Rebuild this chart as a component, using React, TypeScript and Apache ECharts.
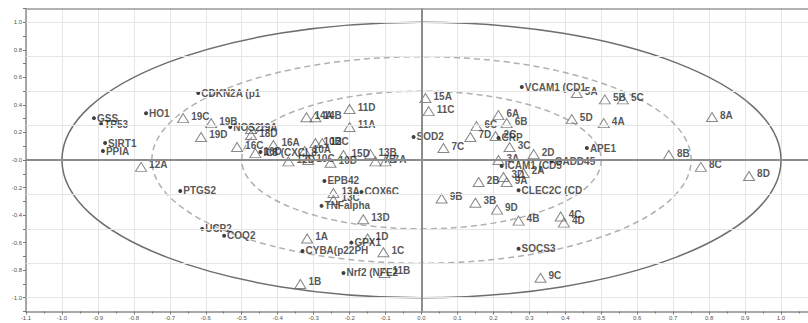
import React, { useEffect, useRef } from "react";
import * as echarts from "echarts";

// X-variables (genes), shown as small dots
const geneNames = [
  "GSS", "TP53", "HO1", "CDKN2A (p1", "SIRT1", "PPIA", "NOS2", "PTGS2", "UCP2", "COQ2",
  "EPB42", "COX6C", "TNFalpha", "GPX1", "CYBA(p22PH", "Nrf2 (NFE2", "SOD2", "VCAM1 (CD1",
  "APE1", "GADD45", "ICAM1 (CD5", "CLEC2C (CD", "SOCS3", "CRP", "IL8 (CXCL8",
];
const geneX = [
  -0.911, -0.891, -0.766, -0.621, -0.88, -0.886, -0.532, -0.671, -0.61, -0.549,
  -0.27, -0.167, -0.278, -0.195, -0.331, -0.217, -0.022, 0.279,
  0.46, 0.362, 0.223, 0.27, 0.27, 0.214, -0.448,
];
const geneY = [
  0.304, 0.261, 0.34, 0.486, 0.123, 0.065, 0.239, -0.225, -0.5, -0.55,
  -0.152, -0.232, -0.333, -0.6, -0.66, -0.82, 0.167, 0.53,
  0.087, -0.01, -0.043, -0.22, -0.645, 0.16, 0.058,
];

// Y-variables (samples), shown as hollow triangles
const sampleNames = [
  "19C", "19B", "19D", "19A", "18D", "16C", "16D", "16A", "14A", "14B",
  "10B", "12C", "10A", "12D", "10C", "10D", "15D", "13B", "7B", "7A",
  "11D", "11A", "15A", "11C", "12A", "13A", "13C", "13D", "1A", "1D",
  "1C", "1B", "11B", "7C", "7D", "6A", "6B", "6C", "2C", "3C",
  "2D", "3A", "2A", "3D", "9A", "2B", "3B", "9B", "9D", "4B",
  "4C", "4D", "9C", "5A", "5B", "5C", "5D", "4A", "8A", "8B",
  "8C", "8D",
];
const sampleX = [
  -0.663, -0.585, -0.613, -0.474, -0.474, -0.513, -0.462, -0.412, -0.32, -0.295,
  -0.295, -0.276, -0.325, -0.37, -0.315, -0.253, -0.217, -0.142, -0.128, -0.1,
  -0.2, -0.2, 0.011, 0.02, -0.78, -0.245, -0.245, -0.162, -0.318, -0.15,
  -0.106, -0.337, -0.103, 0.061, 0.136, 0.214, 0.237, 0.153, 0.206, 0.245,
  0.312, 0.214, 0.284, 0.228, 0.237, 0.159, 0.15, 0.056, 0.21, 0.27,
  0.387, 0.396, 0.331, 0.432, 0.51, 0.56, 0.418, 0.507, 0.808, 0.688,
  0.777, 0.911,
];
const sampleY = [
  0.304, 0.268, 0.167, 0.225, 0.181, 0.094, 0.05, 0.109, 0.31, 0.31,
  0.123, 0.123, 0.065, -0.01, 0.0, -0.02, 0.036, 0.043, -0.01, -0.01,
  0.37, 0.24, 0.45, 0.355, -0.05, -0.24, -0.29, -0.43, -0.57, -0.57,
  -0.67, -0.9, -0.82, 0.087, 0.167, 0.326, 0.268, 0.246, 0.174, 0.094,
  0.043, 0.0, -0.094, -0.123, -0.16, -0.16, -0.31, -0.28, -0.36, -0.44,
  -0.41, -0.455, -0.855, 0.486, 0.44, 0.44, 0.297, 0.268, 0.312, 0.036,
  -0.05, -0.116,
];

// correlation circles (radius) and horizontal grid levels
const circleRadii = [1.0, 0.75, 0.5];
const hGridLevels = [1.0, 0.75, 0.5, 0.25, -0.25, -0.5, -0.75, -1.0];

const FONT = "Liberation Sans";

export default function App() {
  const ref = useRef<HTMLDivElement>(null);

  useEffect(() => {
    document.body.style.margin = "0";
    if (!ref.current) return;
    const chart = echarts.init(ref.current, undefined, { renderer: "svg" });

    const labelStyle = {
      show: true,
      position: "right" as const,
      fontFamily: FONT,
      fontSize: 10,
      fontWeight: "bold" as const,
      color: "#2a2a2a",
    };

    const markLineData: any[] = hGridLevels.map((v) => ({
      yAxis: v,
      lineStyle: { color: "#e6e6e6", width: 1, type: "solid" },
    }));
    markLineData.push({ yAxis: 1.1, lineStyle: { color: "#9a9a9a", width: 1.5, type: "solid" } });
    markLineData.push({ xAxis: 0, lineStyle: { color: "#8c8c8c", width: 2, type: "solid" } });
    markLineData.push({ yAxis: 0, lineStyle: { color: "#8c8c8c", width: 2, type: "solid" } });

    const isTenth = (v: number) => Math.abs(v * 10 - Math.round(v * 10)) < 1e-6;

    chart.setOption({
      animation: false,
      grid: {
        left: 26,
        right: 0,
        top: 8.5,
        bottom: 11.5,
        show: false,
      },
      xAxis: {
        type: "value",
        min: -1.1,
        max: 1.075,
        interval: 0.1,
        axisLine: { show: true, onZero: false, lineStyle: { color: "#8c8c8c", width: 1.5 } },
        axisTick: { show: true, length: 3, lineStyle: { color: "#777" } },
        minorTick: { show: true, splitNumber: 2, length: 2, lineStyle: { color: "#777" } },
        splitLine: { show: true, lineStyle: { color: "#e6e6e6", width: 1 } },
        axisLabel: {
          fontFamily: FONT,
          fontSize: 6,
          color: "#555",
          margin: 3,
          showMaxLabel: false,
          formatter: (v: number) => (isTenth(v) ? v.toFixed(1) : ""),
        },
      },
      yAxis: {
        type: "value",
        min: -1.1,
        max: 1.1,
        interval: 0.1,
        axisLine: { show: true, onZero: false, lineStyle: { color: "#8c8c8c", width: 1.5 } },
        axisTick: { show: true, length: 3, lineStyle: { color: "#777" } },
        splitLine: { show: false },
        axisLabel: {
          fontFamily: FONT,
          fontSize: 6,
          color: "#555",
          margin: 4,
          formatter: (v: number) => {
            const t = Math.round(v * 10);
            if (t % 2 !== 0) return "";
            if (t === 0) return "-0.0";
            return (t / 10).toFixed(1);
          },
        },
      },
      series: [
        {
          type: "custom",
          z: 1,
          silent: true,
          clip: false,
          data: circleRadii.map((r) => [0, 0, r]),
          encode: { x: 0, y: 1 },
          renderItem: (params: any, api: any) => {
            const r = api.value(2);
            const c = api.coord([0, 0]);
            const p = api.coord([r, r]);
            const solid = params.dataIndex === 0;
            return {
              type: "ellipse",
              shape: { cx: c[0], cy: c[1], rx: p[0] - c[0], ry: c[1] - p[1] },
              style: {
                fill: "none",
                stroke: solid ? "#6e6e6e" : "#b0b0b0",
                lineWidth: 1.5,
                lineDash: solid ? null : [6, 4],
              },
            };
          },
          markLine: {
            silent: true,
            symbol: "none",
            label: { show: false },
            animation: false,
            data: markLineData,
          },
        },
        {
          type: "scatter",
          z: 3,
          symbol: "triangle",
          symbolSize: [11, 9],
          itemStyle: { color: "rgba(255,255,255,0)", borderColor: "#6a6a6a", borderWidth: 1 },
          label: { ...labelStyle, offset: [-3, -2], formatter: (p: any) => p.data[2] },
          data: sampleNames.map((n, i) => [sampleX[i], sampleY[i], n]),
        },
        {
          type: "scatter",
          z: 4,
          symbol: "circle",
          symbolSize: 4,
          itemStyle: { color: "#111" },
          label: { ...labelStyle, offset: [-4, 0], formatter: (p: any) => p.data[2] },
          data: geneNames.map((n, i) => [geneX[i], geneY[i], n]),
        },
      ],
    });

    return () => chart.dispose();
  }, []);

  return <div ref={ref} style={{ width: 808, height: 323 }} />;
}
